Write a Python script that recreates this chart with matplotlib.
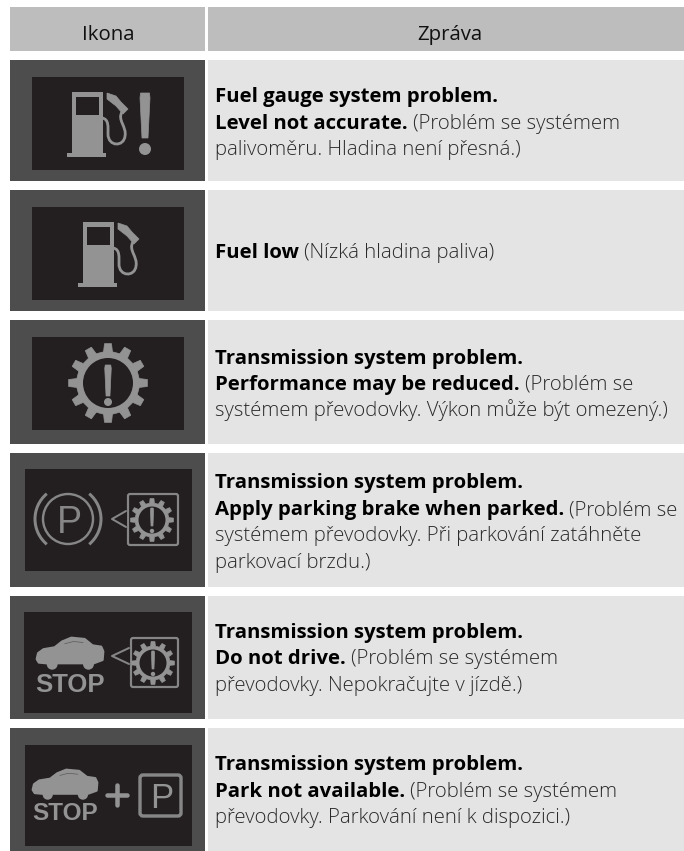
import numpy as np
import matplotlib
matplotlib.use("Agg")
import matplotlib.pyplot as plt
from matplotlib.patches import Rectangle, Circle, PathPatch, Polygon, FancyBboxPatch, Arc
from matplotlib.path import Path

W, H = 684, 851
HEADER = "#bdbdbd"
ICON_BG = "#4d4d4d"
PANEL = "#231f20"
MSG_BG = "#e4e4e4"
GLYPH = "#939393"
GLYPH_DIM = "#868686"

FONT = "Open Sans"
SIZE = 14.7
GAP = 5.0

headers = ["Ikona", "Zpráva"]

# top / bottom of each row, pixels
row_tops = [60, 190, 320, 453, 596, 728]
row_bottoms = [181, 311, 444, 587, 719, 851]

# dark icon panel of each row: left, top, right, bottom
panels = [(32, 77, 184, 170), (32, 207, 184, 300), (32, 337, 184, 430),
          (25, 469, 192, 571), (24, 612, 192, 713), (25, 745, 192, 846)]

baselines = [[102, 129, 155], [258], [364, 390, 416],
             [488, 515, 541, 568], [638, 664, 691], [770, 797, 823]]

# each line is a list of (text, bold) runs
messages = [
    [[("Fuel gauge system problem.", True)],
     [("Level not accurate.", True), ("(Problém se systémem", False)],
     [("palivoměru. Hladina není přesná.)", False)]],
    [[("Fuel low", True), ("(Nízká hladina paliva)", False)]],
    [[("Transmission system problem.", True)],
     [("Performance may be reduced.", True), ("(Problém se", False)],
     [("systémem převodovky. Výkon může být omezený.)", False)]],
    [[("Transmission system problem.", True)],
     [("Apply parking brake when parked.", True), ("(Problém se", False)],
     [("systémem převodovky. Při parkování zatáhněte", False)],
     [("parkovací brzdu.)", False)]],
    [[("Transmission system problem.", True)],
     [("Do not drive.", True), ("(Problém se systémem", False)],
     [("převodovky. Nepokračujte v jízdě.)", False)]],
    [[("Transmission system problem.", True)],
     [("Park not available.", True), ("(Problém se systémem", False)],
     [("převodovky. Parkování není k dispozici.)", False)]],
]

fig = plt.figure(figsize=(W / 100, H / 100), dpi=100)
ax = fig.add_axes([0, 0, 1, 1])
ax.set_xlim(0, W)
ax.set_ylim(H, 0)
ax.axis("off")


def box(x0, y0, x1, y1, color):
    ax.add_patch(Rectangle((x0, y0), x1 - x0, y1 - y0, fc=color, ec="none"))


def stroke(pts, lw, color=GLYPH):
    # lw comes in pixels
    xs, ys = zip(*pts)
    ax.plot(xs, ys, color=color, lw=lw * 0.72, solid_capstyle="round", solid_joinstyle="round")


def bang(cx, top, bot, w, dot_y, dot_r, color=GLYPH):
    ax.add_patch(Polygon([(cx - w / 2, top + w / 2), (cx - w / 2 + 0.5, top), (cx + w / 2 - 0.5, top),
                          (cx + w / 2, top + w / 2), (cx + w * 0.3, bot), (cx - w * 0.3, bot)],
                         fc=color, ec=color, lw=0.5, joinstyle="round"))
    ax.add_patch(Circle((cx, dot_y), dot_r, fc=color, ec="none"))


def pump(dx, dy):
    box(72 + dx, 92 + dy, 103 + dx, 154 + dy, GLYPH)
    box(67 + dx, 153 + dy, 106 + dx, 156.5 + dy, GLYPH)
    box(76 + dx, 97 + dy, 99 + dx, 115 + dy, PANEL)
    # hose, nozzle first
    ax.add_patch(PathPatch(Path([(107 + dx, 93 + dy), (116 + dx, 96 + dy), (121 + dx, 102 + dy),
                                 (128 + dx, 109 + dy), (123 + dx, 114 + dy), (116 + dx, 106 + dy),
                                 (107 + dx, 99 + dy), (107 + dx, 93 + dy)]),
                           fc=GLYPH, ec=GLYPH, lw=0.5))
    hose = Path([(122 + dx, 112 + dy), (117 + dx, 120 + dy), (127 + dx, 127 + dy), (125 + dx, 136 + dy),
                 (124 + dx, 147 + dy), (108 + dx, 147 + dy), (108 + dx, 134 + dy),
                 (108 + dx, 127 + dy), (109 + dx, 119 + dy), (102 + dx, 118 + dy)],
                [Path.MOVETO] + [Path.CURVE4] * 9)
    ax.add_patch(PathPatch(hose, fc="none", ec=GLYPH, lw=2.8 * 0.72, capstyle="round"))


def gear(cx, cy, r_out, r_body, r_in, teeth=12, color=GLYPH):
    pts = []
    step = 2 * np.pi / teeth
    for i in range(teeth):
        a = i * step - np.pi / 2
        for da, r in [(-0.27, r_body), (-0.17, r_out), (0.17, r_out), (0.27, r_body)]:
            ang = a + da * step
            pts.append((cx + r * np.cos(ang), cy + r * np.sin(ang)))
    ax.add_patch(Polygon(pts, fc=color, ec=color, lw=0.5, joinstyle="round"))
    ax.add_patch(Circle((cx, cy), r_in, fc=PANEL, ec="none"))


def bubble(x0, y0, x1, y1, tip_x, tip_y, color=GLYPH_DIM):
    ax.add_patch(FancyBboxPatch((x0 + 2, y0 + 2), x1 - x0 - 4, y1 - y0 - 4,
                                boxstyle="round,pad=0,rounding_size=2", fc="none", ec=color, lw=2.2 * 0.72))
    ax.add_patch(Polygon([(x0, tip_y - 8), (tip_x, tip_y), (x0, tip_y + 8)], fc=PANEL, ec=PANEL, lw=1.5, zorder=3))
    stroke([(x0, tip_y - 8), (tip_x, tip_y), (x0, tip_y + 8)], 2.0, color)
    ax.lines[-1].set_zorder(4)


def car(x0, y0, w, h):
    outline = [(0.0, 0.66), (0.02, 0.48), (0.10, 0.36), (0.27, 0.30), (0.38, 0.12), (0.52, 0.0),
               (0.72, 0.04), (0.84, 0.24), (0.97, 0.28), (1.0, 0.42), (0.99, 0.68), (0.86, 0.78),
               (0.14, 0.78), (0.03, 0.76)]
    ax.add_patch(Polygon([(x0 + a * w, y0 + b * h) for a, b in outline], fc=GLYPH, ec=GLYPH, lw=2, joinstyle="round"))
    for a in (0.23, 0.78):
        ax.add_patch(Circle((x0 + a * w, y0 + 0.82 * h), 0.17 * h, fc=GLYPH, ec="none"))
    stroke([(x0 + 0.42 * w, y0 + 0.18 * h), (x0 + 0.55 * w, y0 + 0.11 * h), (x0 + 0.70 * w, y0 + 0.14 * h)], 0.7, "#5a5a5a")


def letter(s, cx, base, size, weight="normal", color=GLYPH):
    ax.text(cx, base, s, ha="center", va="baseline", fontsize=size, color=color,
            family="Liberation Sans", weight=weight)


def draw_icon(i):
    if i == 0:
        pump(0, 0)
        bang(145, 93, 138, 10, 149, 6)
    elif i == 1:
        pump(11, 130)
    elif i == 2:
        gear(108, 383, 39.5, 31.5, 25)
        bang(108, 365, 396, 6.5, 402, 4)
    elif i == 3:
        ax.add_patch(Circle((68, 519), 25, fc="none", ec=GLYPH_DIM, lw=2.4 * 0.72))
        for t0, t1 in [(130, 230), (-50, 50)]:
            ax.add_patch(Arc((68, 519), 66, 66, theta1=t0, theta2=t1, ec=GLYPH_DIM, lw=3 * 0.72))
        letter("P", 69, 533, 27, color=GLYPH_DIM)
        bubble(126, 492, 180, 547, 112, 519)
        gear(152, 520, 21.5, 17, 13.5)
        bang(152, 508, 526, 3.2, 531, 2.2)
    elif i == 4:
        car(37, 638, 66, 32)
        letter("STOP", 70, 692, 18.5, "bold")
        bubble(129, 636, 180, 689, 112, 656)
        gear(153, 663, 21.5, 17, 13.5)
        bang(153, 651, 669, 3.2, 674, 2.2)
    else:
        car(33, 770, 64, 30)
        letter("STOP", 65, 820, 17.5, "bold")
        stroke([(107, 795), (127, 795)], 4.5)
        stroke([(117, 785), (117, 805)], 4.5)
        ax.add_patch(FancyBboxPatch((140, 775), 41, 41, boxstyle="round,pad=0,rounding_size=3",
                                    fc="none", ec=GLYPH_DIM, lw=3.4 * 0.72))
        letter("P", 162, 808, 25, color=GLYPH)


# header
box(10, 7, 205, 51, HEADER)
box(208, 7, 684, 51, HEADER)
ax.text(108, 40, headers[0], ha="center", va="baseline", fontsize=SIZE, color="#111111", family=FONT)
ax.text(450, 40, headers[1], ha="center", va="baseline", fontsize=SIZE, color="#111111", family=FONT)

renderer = fig.canvas.get_renderer()

for i in range(len(row_tops)):
    box(10, row_tops[i], 205, row_bottoms[i], ICON_BG)
    box(208, row_tops[i], 684, row_bottoms[i], MSG_BG)
    x0, y0, x1, y1 = panels[i]
    box(x0, y0, x1, y1, PANEL)
    draw_icon(i)
    for line, base in zip(messages[i], baselines[i]):
        x = 215
        for run, bold in line:
            t = ax.text(x, base, run, ha="left", va="baseline", fontsize=SIZE, family=FONT,
                        weight="bold" if bold else "light",
                        color="black" if bold else "#2a2a2a")
            x += t.get_window_extent(renderer).width + GAP

fig.savefig("out.png", dpi=100)
